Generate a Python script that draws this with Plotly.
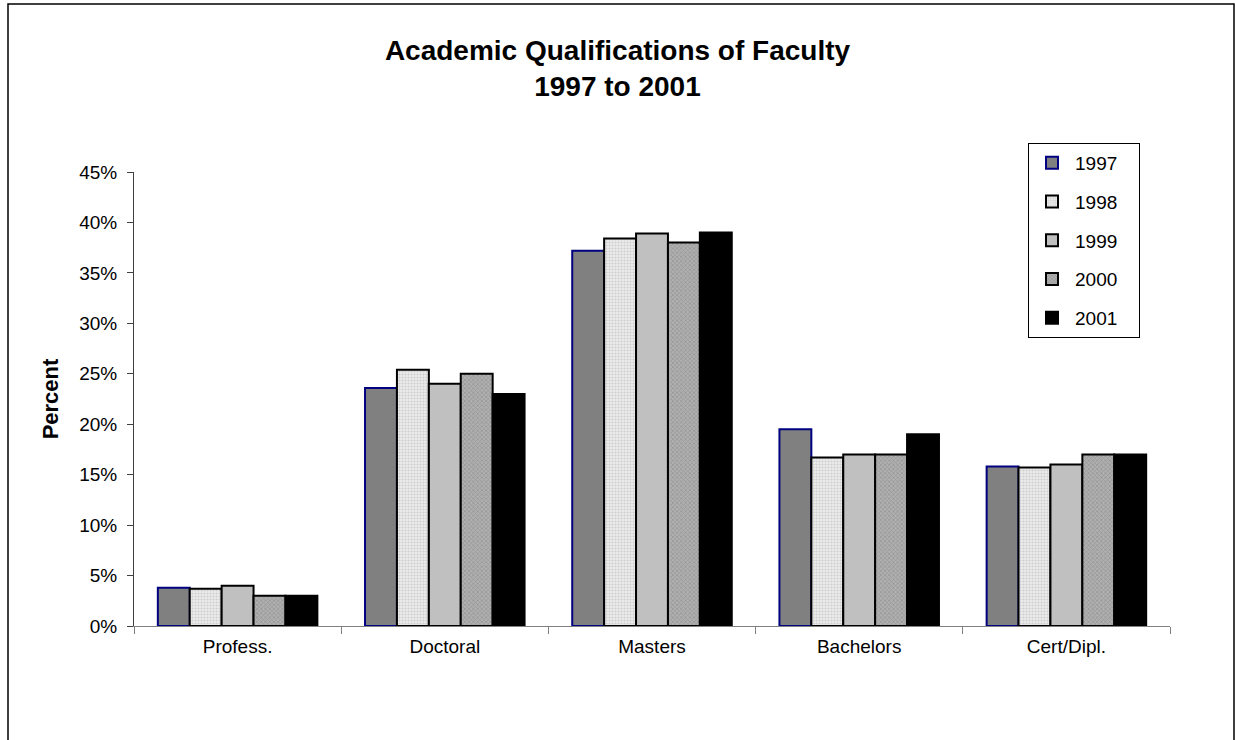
import plotly.graph_objects as go

# Qualification categories and per-year shares (percent of faculty)
categories = ["Profess.", "Doctoral", "Masters", "Bachelors", "Cert/Dipl."]
years = ["1997", "1998", "1999", "2000", "2001"]
pct_1997 = [3.8, 23.6, 37.2, 19.5, 15.8]
pct_1998 = [3.7, 25.4, 38.4, 16.7, 15.7]
pct_1999 = [4.0, 24.0, 38.9, 17.0, 16.0]
pct_2000 = [3.0, 25.0, 38.0, 17.0, 17.0]
pct_2001 = [3.0, 23.0, 39.0, 19.0, 17.0]
y_ticks = [0, 5, 10, 15, 20, 25, 30, 35, 40, 45]
y_tick_labels = [f"{v}%" for v in y_ticks]

series = [pct_1997, pct_1998, pct_1999, pct_2000, pct_2001]

styles = [
    dict(color="#808080", line=dict(color="#000080", width=2)),
    dict(color="#e0e0e0", line=dict(color="#000000", width=2),
         pattern=dict(shape=".", fgcolor="#b0b0b0", bgcolor="#ececec", size=3, solidity=0.4)),
    dict(color="#c0c0c0", line=dict(color="#000000", width=2)),
    dict(color="#a0a0a0", line=dict(color="#000000", width=2),
         pattern=dict(shape="x", fgcolor="#7c7c7c", bgcolor="#b0b0b0", size=3, solidity=0.45)),
    dict(color="#000000", line=dict(color="#000000", width=2)),
]

fig = go.Figure()
for name, vals, st in zip(years, series, styles):
    fig.add_trace(go.Bar(
        x=categories, y=vals, name=name + "\u00a0\u00a0\u00a0", marker=st,
        legendgroup=name,
    ))

font = "Liberation Sans, Arial, sans-serif"

# plot area: x 134..1170, y 172..626 (pixels)
L, R, T, B = 134, 1170, 172, 626
PW, PH = R - L, B - T

fig.update_layout(
    width=1235, height=740,
    paper_bgcolor="white", plot_bgcolor="white",
    margin=dict(l=L, r=1235 - R, t=T, b=740 - B, autoexpand=False),
    barmode="group", bargap=0.23, bargroupgap=0,
    font=dict(family=font, size=19, color="#000000"),
    title=dict(
        text="<b>Academic Qualifications of Faculty<br>1997 to 2001</b>",
        x=0.5, xanchor="center", xref="container",
        y=1 - 60 / 740, yanchor="middle", yref="container",
        font=dict(family=font, size=28, color="#000000"),
    ),
    xaxis=dict(
        showline=True, linecolor="#808080", linewidth=1,
        ticks="outside", tickson="boundaries", ticklen=7, tickcolor="#808080",
        tickfont=dict(size=19), showgrid=False, ticklabelstandoff=3,
    ),
    yaxis=dict(
        range=[0, 45], tickmode="array", tickvals=y_ticks, ticktext=y_tick_labels,
        showline=True, linecolor="#404040", linewidth=1,
        ticks="outside", ticklen=6, tickcolor="#404040",
        showgrid=False, zeroline=False,
        tickfont=dict(size=19), ticklabelstandoff=6,
        title=dict(text="<b>Percent</b>", font=dict(size=22), standoff=14),
    ),
    legend=dict(
        x=(1028 - L) / PW, xref="paper", xanchor="left",
        y=(B - 143) / PH, yref="paper", yanchor="top",
        bordercolor="#000000", borderwidth=1, bgcolor="white",
        font=dict(size=19), tracegroupgap=11, traceorder="grouped",
        itemwidth=36,
    ),
    shapes=[dict(
        type="rect", xref="paper", yref="paper",
        x0=(8 - L) / PW, x1=(1234 - L) / PW,
        y0=(B - 760) / PH, y1=(B - 4) / PH,
        line=dict(color="#000000", width=1.5), fillcolor="rgba(0,0,0,0)",
        layer="below",
    )],
)

fig.write_html("out.html")
